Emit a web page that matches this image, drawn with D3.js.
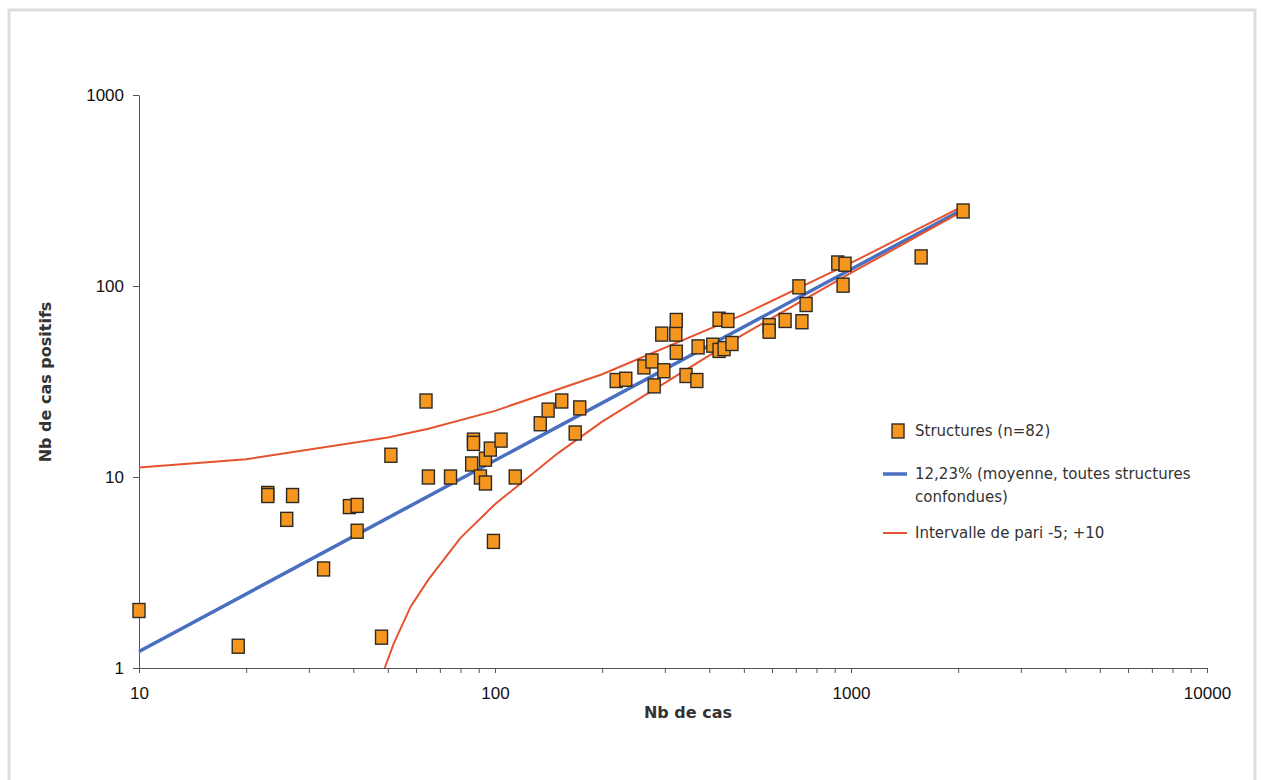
<!DOCTYPE html>
<html>
<head>
<meta charset="utf-8">
<script src="https://cdn.jsdelivr.net/npm/d3@7"></script>
<style>
  body { margin: 0; background: #fff; }
  svg text { font-family: "Liberation Sans", Arial, sans-serif; }
  .lbl { font-family: "DejaVu Sans", "Open Sans", sans-serif; fill: #333; }
</style>
</head>
<body>
<script>
// Nb de cas (x) / Nb de cas positifs (y)
var nbCas = [10, 19, 23, 23, 26, 27, 33, 39, 41, 41, 48, 51, 64, 65, 75, 87, 87, 86, 91, 94, 97, 94, 104, 114, 99,
  134, 141, 154, 168, 173, 219, 233, 262, 276, 280, 298, 294, 322, 323, 323, 344, 369, 372, 409, 426, 440, 463,
  426, 451, 589, 589, 653, 728, 748, 714, 918, 962, 950, 1574, 2065];
var nbPositifs = [2, 1.3, 8.2, 8, 6, 8, 3.3, 7, 7.1, 5.2, 1.45, 13, 25, 10, 10, 15.6, 15, 11.7, 10, 12.4, 14, 9.3, 15.6, 10, 4.6,
  19, 22.4, 25, 17, 23, 32, 32.5, 37.7, 40.5, 30, 36, 56, 56, 66, 45, 34, 32, 48, 49, 46, 47, 50,
  67, 66, 62, 58, 66, 65, 80, 99, 132, 130, 101, 142, 247];

// moyenne 12,23%
var moyX = [10, 2065];
var moyY = [1.22, 252.5];

// intervalle de pari
var hautX = [10, 20, 50, 65, 100, 200, 500, 1000, 2065];
var hautY = [11.2, 12.4, 16.1, 17.9, 22.2, 34.5, 71, 132, 262];
var basX = [49, 52, 58, 65, 80, 100, 150, 200, 500, 1000, 2065];
var basY = [1.0, 1.35, 2.1, 2.9, 4.8, 7.2, 13.3, 19.5, 56, 117, 247];

var xTicks = [10, 100, 1000, 10000];
var yTicks = [1, 10, 100, 1000];

var width = 1261, height = 780;
var svg = d3.select("body").append("svg").attr("width", width).attr("height", height);

// cadre
svg.append("rect").attr("x", 9).attr("y", 10).attr("width", 1246).attr("height", 800)
  .attr("fill", "#fff").attr("stroke", "#dcdcdc").attr("stroke-width", 3);

var x = d3.scaleLog().domain([10, 10000]).range([139, 1207]);
var y = d3.scaleLog().domain([1, 1000]).range([668, 95]);

// axe x avec graduations secondaires
var minorX = [];
[10, 100, 1000].forEach(function(d) { for (var k = 1; k <= 10; k++) minorX.push(d * k); });
svg.append("g").attr("transform", "translate(0,668)")
  .call(d3.axisBottom(x).tickValues(minorX).tickSize(5).tickFormat(""))
  .call(function(g) { g.selectAll("line,path").attr("stroke", "#555"); });
var gx = svg.append("g").attr("transform", "translate(0,668)")
  .call(d3.axisBottom(x).tickValues(xTicks).tickSize(5).tickSizeOuter(0).tickPadding(14).tickFormat(d3.format("d")));
gx.select(".domain").remove();
gx.selectAll("line").attr("stroke", "#555");
gx.selectAll("text").attr("font-size", 17).attr("fill", "#111");

var gy = svg.append("g").attr("transform", "translate(139,0)")
  .call(d3.axisLeft(y).tickValues(yTicks).tickSize(6).tickSizeOuter(0).tickPadding(9).tickFormat(d3.format("d")));
gy.selectAll("line,path").attr("stroke", "#555");
gy.selectAll("text").attr("font-size", 17).attr("fill", "#111");

svg.append("text").attr("class", "lbl").attr("x", 688).attr("y", 718).attr("text-anchor", "middle")
  .attr("font-size", 16).attr("font-weight", "bold").attr("fill", "#111").text("Nb de cas");
svg.append("text").attr("class", "lbl").attr("transform", "translate(51,382) rotate(-90)").attr("text-anchor", "middle")
  .attr("font-size", 16).attr("font-weight", "bold").attr("fill", "#111").text("Nb de cas positifs");

var line = d3.line().x(function(d) { return x(d[0]); }).y(function(d) { return y(d[1]); });
var plot = svg.append("g");

plot.append("path").datum(d3.zip(moyX, moyY)).attr("d", line)
  .attr("fill", "none").attr("stroke", "#4a6fc0").attr("stroke-width", 3.5);
plot.append("path").datum(d3.zip(hautX, hautY)).attr("d", line)
  .attr("fill", "none").attr("stroke", "#e5532f").attr("stroke-width", 2);
plot.append("path").datum(d3.zip(basX, basY)).attr("d", line)
  .attr("fill", "none").attr("stroke", "#e5532f").attr("stroke-width", 2);

var sw = 12, sh = 14;
plot.selectAll(".pt").data(d3.zip(nbCas, nbPositifs)).enter().append("rect")
  .attr("class", "pt")
  .attr("x", function(d) { return x(d[0]) - sw / 2; })
  .attr("y", function(d) { return y(d[1]) - sh / 2; })
  .attr("width", sw).attr("height", sh)
  .attr("fill", "#f5961f").attr("stroke", "#2d2a26").attr("stroke-width", 1.4);

// légende
var leg = svg.append("g");
leg.append("rect").attr("x", 892).attr("y", 424).attr("width", 12).attr("height", 14)
  .attr("fill", "#f5961f").attr("stroke", "#2d2a26").attr("stroke-width", 1.4);
leg.append("text").attr("class", "lbl").attr("x", 915).attr("y", 436).attr("font-size", 15).text("Structures (n=82)");
leg.append("line").attr("x1", 883).attr("x2", 907).attr("y1", 474).attr("y2", 474)
  .attr("stroke", "#4a6fc0").attr("stroke-width", 3.5);
leg.append("text").attr("class", "lbl").attr("x", 915).attr("y", 479).attr("font-size", 15).text("12,23% (moyenne, toutes structures");
leg.append("text").attr("class", "lbl").attr("x", 915).attr("y", 502).attr("font-size", 15).text("confondues)");
leg.append("line").attr("x1", 883).attr("x2", 907).attr("y1", 533).attr("y2", 533)
  .attr("stroke", "#e5532f").attr("stroke-width", 2);
leg.append("text").attr("class", "lbl").attr("x", 915).attr("y", 538).attr("font-size", 15).text("Intervalle de pari -5; +10");
</script>
</body>
</html>
